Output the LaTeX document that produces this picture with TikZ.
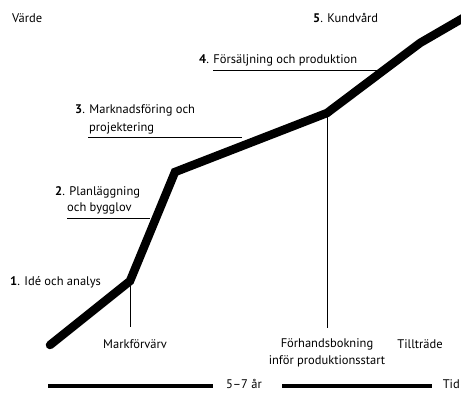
\documentclass[tikz,border=0pt]{standalone}
\usepackage{fontspec}
\setmainfont{PT Sans}
\begin{document}
\begin{tikzpicture}[x=1pt,y=-1pt,
  lbl/.style={inner sep=0pt,anchor=west,font=\fontsize{12.5}{18}\selectfont},
  thin/.style={line width=0.6pt},
  curve/.style={line width=8.5pt,line cap=round},
  bar/.style={line width=4pt}]
\useasboundingbox (0,0) rectangle (461,392);
\begin{scope}
\clip (0,0) rectangle (461,392);
\coordinate (p0) at (50,345);
\coordinate (p1) at (130,281);
\coordinate (p2) at (175,172);
\coordinate (p3) at (327,113);
\coordinate (p4) at (420,43);
\coordinate (p5) at (470,14);
\draw[curve] (p0) -- (p1) -- (p2) -- (p3) -- (p4) -- (p5);
\end{scope}
% labels
\node[lbl] (varde) at (12,18) {Värde};
\node[lbl] (s5) at (313,18) {\textbf{5}. Kundvård};
\node[lbl] (s4) at (199,60) {\textbf{4}. Försäljning och produktion};
\node[lbl] (s3a) at (75,110) {\textbf{3}. Marknadsföring och};
\node[lbl] (s3b) at (89,128) {projektering};
\node[lbl] (s2a) at (55,192) {\textbf{2}. Planläggning};
\node[lbl] (s2b) at (67,208) {och bygglov};
\node[lbl] (s1) at (10,282) {\textbf{1}. Idé och analys};
\node[lbl,anchor=center] (mark) at (135,344) {Markförvärv};
\node[lbl,anchor=center,align=center] (forh) at (327,353) {Förhandsbokning\\[-1pt]inför produktionsstart};
\node[lbl,anchor=center] (till) at (420,344) {Tillträde};
\node[lbl,anchor=base] (ar) at (244,388.5) {5–7 år};
\node[lbl,anchor=base east] (tid) at (460,388.5) {Tid};
% underlines
\coordinate (u4a) at (213,70); \coordinate (u4b) at (378,70);
\coordinate (u3a) at (88,137); \coordinate (u3b) at (242,137);
\coordinate (u2a) at (67,218); \coordinate (u2b) at (150,218);
\draw[thin] (u4a) -- (u4b);
\draw[thin] (u3a) -- (u3b);
\draw[thin] (u2a) -- (u2b);
% verticals
\coordinate (v1b) at (130,327);
\coordinate (v2b) at (327,328);
\draw[thin] (p1) -- (v1b);
\draw[thin] (p3) -- (v2b);
% bottom bars
\coordinate (b1a) at (48,386); \coordinate (b1b) at (213,386);
\coordinate (b2a) at (282,386); \coordinate (b2b) at (432,386);
\draw[bar] (b1a) -- (b1b);
\draw[bar] (b2a) -- (b2b);
\end{tikzpicture}
\end{document}
